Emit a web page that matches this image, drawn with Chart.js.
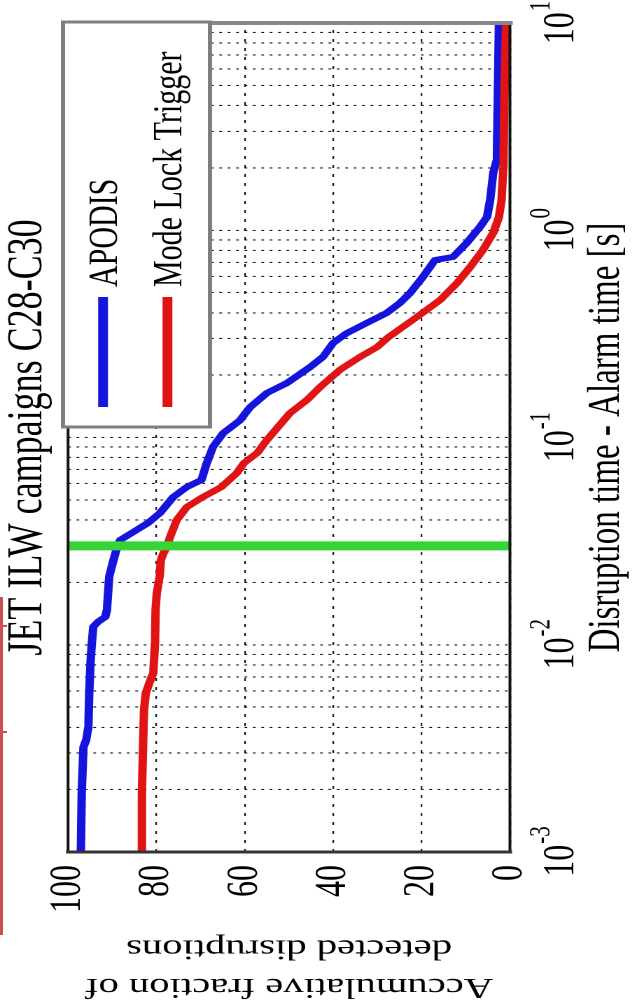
<!DOCTYPE html>
<html><head><meta charset="utf-8">
<script src="https://cdn.jsdelivr.net/npm/chart.js@4.4.1/dist/chart.umd.min.js"></script>
<style>
html,body{margin:0;padding:0;background:#fff;width:634px;height:1008px;overflow:hidden;position:relative;}
#wrap{position:absolute;left:0;top:0;width:1008px;height:453px;transform-origin:0 0;transform:translate(0px,1008px) scale(1.4,1) rotate(-90deg);z-index:1;}
#mark{position:absolute;left:0;top:597px;width:3px;height:338px;background:#c85050;z-index:2;}
.tk{position:absolute;left:0;width:7px;height:2px;background:#c85050;z-index:2;}
</style></head><body>
<div id="wrap"><canvas id="c" width="1008" height="453"></canvas></div>
<div id="mark"></div><div class="tk" style="top:625px"></div><div class="tk" style="top:731px"></div>
<script>
// ---- data ----
const chartTitle = 'JET ILW campaigns C28-C30';
const xTitle = 'Disruption time - Alarm time [s]';
const yTitle = ['Accumulative fraction of', 'detected disruptions'];
const seriesNames = ['APODIS', 'Mode Lock Trigger'];

const apodisTime = [0.001, 0.00193, 0.00321, 0.00347, 0.00401, 0.00585, 0.00844, 0.0102, 0.0122, 0.0129, 0.0136, 0.0147, 0.0212, 0.0248, 0.0296, 0.0320, 0.0346, 0.0387, 0.0432, 0.0516, 0.0577, 0.0624, 0.0753, 0.0900, 0.105, 0.121, 0.140, 0.164, 0.183, 0.219, 0.245, 0.286, 0.319, 0.357, 0.399, 0.446, 0.498, 0.595, 0.665, 0.718, 0.743, 0.868, 1.037, 1.159, 1.40, 1.89, 2.18, 5.13, 10];
const apodisFraction = [97.1, 96.9, 96.5, 95.9, 95.4, 95.2, 94.9, 94.6, 94.3, 93.2, 91.6, 91.2, 90.7, 89.9, 88.9, 88.2, 85.6, 81.9, 79.2, 76.2, 73.1, 69.8, 68.6, 67.2, 64.9, 61.1, 58.8, 55.0, 50.5, 45.2, 42.3, 40.0, 36.9, 32.4, 27.9, 24.9, 22.6, 19.7, 18.1, 17.0, 12.9, 9.8, 6.8, 5.2, 4.5, 3.8, 3.0, 2.7, 2.5];

const mltTime = [0.001, 0.00193, 0.00336, 0.00484, 0.00585, 0.00654, 0.00731, 0.0102, 0.0147, 0.0178, 0.0212, 0.0256, 0.0277, 0.0296, 0.0331, 0.0400, 0.0462, 0.0516, 0.0577, 0.0674, 0.0753, 0.0842, 0.0973, 0.131, 0.152, 0.175, 0.212, 0.245, 0.273, 0.305, 0.381, 0.461, 0.556, 0.665, 0.803, 0.970, 1.159, 1.40, 2.02, 4.25, 10];
const mltFraction = [83.3, 83.3, 83.0, 82.8, 82.4, 81.6, 80.7, 80.3, 80.2, 79.9, 79.3, 79.0, 78.4, 77.7, 76.9, 75.4, 73.1, 69.5, 65.3, 61.8, 60.2, 57.2, 55.0, 49.8, 45.9, 43.0, 38.5, 33.9, 30.1, 27.5, 21.1, 15.8, 12.0, 9.0, 6.1, 3.8, 2.5, 1.9, 1.5, 1.3, 0.9];

const thresholdTime = [0.03, 0.03];
const thresholdFraction = [0, 100];

const xGridValues = [0.001,0.002,0.003,0.004,0.005,0.006,0.007,0.008,0.009,
  0.01,0.02,0.03,0.04,0.05,0.06,0.07,0.08,0.09,
  0.1,0.2,0.3,0.4,0.5,0.6,0.7,0.8,0.9,
  1,2,3,4,5,6,7,8,9,10];
const xTickValues = [0.001, 0.01, 0.1, 1, 10];
const xTickBase = '10';
const xTickExponents = ['-3', '-2', '-1', '0', '1'];
const yTickValues = [0, 20, 40, 60, 80, 100];

// ---- drawing ----
const FONT = "'Liberation Serif', 'Times New Roman', serif";
const pts = (xs, ys) => xs.map((v, i) => ({x: v, y: ys[i]}));

const framePlugin = {
  id: 'frame',
  afterDatasetsDraw(chart) {
    const {ctx, chartArea: a} = chart;
    ctx.save();
    ctx.lineCap = 'square';
    const line = (x1, y1, x2, y2, c, w) => { ctx.strokeStyle = c; ctx.lineWidth = w; ctx.beginPath(); ctx.moveTo(x1, y1); ctx.lineTo(x2, y2); ctx.stroke(); };
    line(a.left, a.top, a.right, a.top, '#111', 2);
    line(a.left, a.bottom, a.right, a.bottom, '#111', 2);
    line(a.left, a.top, a.left, a.bottom, '#333', 3);
    line(a.right, a.top, a.right, a.bottom, '#888', 4);
    ctx.restore();
  }
};

const xLabelPlugin = {
  id: 'xlabels',
  afterDraw(chart) {
    const {ctx, scales: {x}, chartArea: a} = chart;
    ctx.save();
    ctx.fillStyle = '#000';
    ctx.textAlign = 'left';
    ctx.textBaseline = 'alphabetic';
    xTickValues.forEach((v, i) => {
      const px = x.getPixelForValue(v);
      ctx.font = '32px ' + FONT;
      const w1 = ctx.measureText(xTickBase).width;
      ctx.font = '21px ' + FONT;
      const w2 = ctx.measureText(xTickExponents[i]).width;
      const start = px - (w1 + w2) / 2;
      ctx.font = '32px ' + FONT;
      ctx.fillText(xTickBase, start, a.bottom + 45);
      ctx.font = '21px ' + FONT;
      ctx.fillText(xTickExponents[i], start + w1 + 1, a.bottom + 28);
    });
    ctx.restore();
  }
};

const legendPlugin = {
  id: 'boxlegend',
  afterDraw(chart) {
    const {ctx, chartArea: a, data} = chart;
    ctx.save();
    const bx = a.right - 404, by = a.top - 3.6, bw = 405, bh = 105;
    ctx.fillStyle = '#fff';
    ctx.fillRect(bx, by, bw, bh);
    ctx.strokeStyle = '#7f7f7f';
    ctx.lineWidth = 3;
    ctx.strokeRect(bx, by, bw, bh);
    const rows = [by + 28.6, by + 74.6];
    [0, 1].forEach(i => {
      const ds = data.datasets[i];
      ctx.strokeStyle = ds.borderColor;
      ctx.lineWidth = 7;
      ctx.beginPath();
      ctx.moveTo(bx + 20, rows[i]);
      ctx.lineTo(bx + 130, rows[i]);
      ctx.stroke();
      ctx.fillStyle = '#000';
      ctx.font = '30px ' + FONT;
      ctx.textBaseline = 'middle';
      ctx.textAlign = 'left';
      ctx.fillText(ds.label, bx + 140, rows[i] + 2);
    });
    ctx.restore();
  }
};

new Chart(document.getElementById('c'), {
  type: 'line',
  data: {
    datasets: [
      {label: seriesNames[0], data: pts(apodisTime, apodisFraction), borderColor: '#1414dc', borderWidth: 6, pointRadius: 0, tension: 0, order: 2, borderJoinStyle: 'round'},
      {label: seriesNames[1], data: pts(mltTime, mltFraction), borderColor: '#e01414', borderWidth: 6, pointRadius: 0, tension: 0, order: 1, borderJoinStyle: 'round'},
      {label: 'threshold', data: pts(thresholdTime, thresholdFraction), borderColor: '#36d436', borderWidth: 9, pointRadius: 0, order: 0}
    ]
  },
  options: {
    responsive: false,
    animation: false,
    devicePixelRatio: 2,
    layout: {padding: {left: 0, right: 23, top: 0, bottom: 0}},
    plugins: {
      legend: {display: false},
      tooltip: {enabled: false},
      title: {display: true, fullSize: false, text: chartTitle, color: '#000',
        font: {family: FONT, size: 36, weight: 'normal', lineHeight: 1},
        padding: {top: 2, bottom: 10.6}}
    },
    scales: {
      x: {
        type: 'logarithmic', min: 0.001, max: 10,
        afterBuildTicks: s => { s.ticks = xGridValues.map(v => ({value: v})); },
        afterFit: s => { s.height = 88.7; },
        ticks: {display: false},
        grid: {color: 'rgba(0,0,0,0.9)', lineWidth: 1.1, drawTicks: false},
        border: {display: false, dash: [2, 4]},
        title: {display: true, text: xTitle, color: '#000',
          font: {family: FONT, size: 33, lineHeight: 1.2}, padding: 0}
      },
      y: {
        min: 0, max: 100,
        afterBuildTicks: s => { s.ticks = yTickValues.map(v => ({value: v})); },
        afterFit: s => { s.width = 156; },
        ticks: {color: '#000', font: {family: FONT, size: 32}, padding: 13},
        grid: {color: 'rgba(0,0,0,0.9)', lineWidth: 1.1, drawTicks: false},
        border: {display: false, dash: [3, 6]},
        title: {display: true, text: yTitle, color: '#000',
          font: {family: FONT, size: 29, lineHeight: 1.33}, padding: {top: 2, bottom: 0}}
      }
    }
  },
  plugins: [framePlugin, xLabelPlugin, legendPlugin]
});
</script>
</body></html>
